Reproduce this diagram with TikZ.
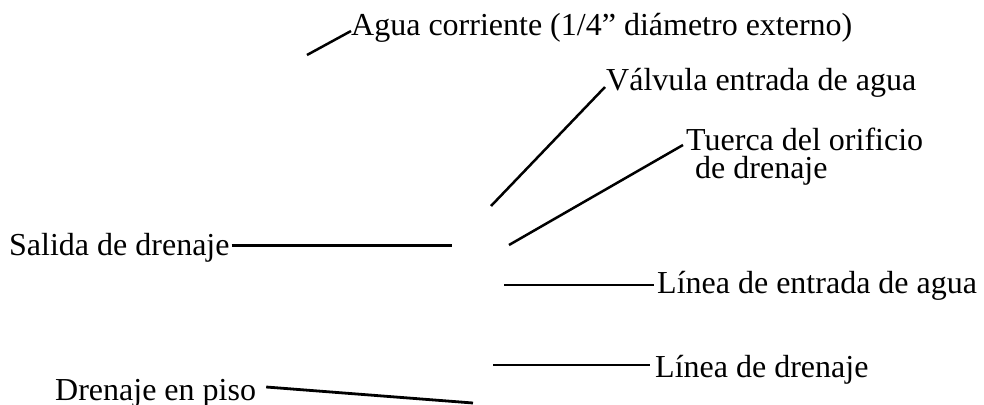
\documentclass[tikz,border=0pt]{standalone}
\usepackage{fontspec}
\setmainfont{Liberation Serif}
\usepackage{tikz}
\tikzset{
    lbl/.style={
        font=\fontsize{32}{28}\selectfont,
        inner sep=0pt,
        anchor=base west
    },
    leader/.style={
        line width=#1,
        line cap=butt
    },
    leader/.default=2.5pt
}

\begin{document}
\begin{tikzpicture}[x=1pt,y=-1pt]
		\useasboundingbox (0,0) rectangle (984,404);

		% free ends of the leaders
		\coordinate (p-agua) at (307,55);
		\coordinate (p-valvula) at (491,206);
		\coordinate (p-tuerca) at (509,245);
		\coordinate (p-salida) at (452,245);
		\coordinate (p-entrada) at (504,285);
		\coordinate (p-lineadren) at (493,365);
		\coordinate (p-piso) at (473,403);

		% Agua corriente
		\node[lbl] (agua) at (351,36) {Agua corriente (1/4” diámetro externo)};
		\draw[leader] (p-agua) -- ([shift={(0,-5)}]agua.base west);

		% Valvula
		\node[lbl] (valvula) at (606,90) {Válvula entrada de agua};
		\draw[leader] (p-valvula) -- ([shift={(-1,-3)}]valvula.base west);

		% Tuerca (base is the last line)
		\node[lbl, align=left] (tuerca) at (686,178) {Tuerca del orificio\\\hspace*{9pt}de drenaje};
		\draw[leader] (p-tuerca) -- ([shift={(-3,-33)}]tuerca.base west);

		% Salida de drenaje
		\node[lbl] (salida) at (9,255) {Salida de drenaje};
		\draw[leader=3pt] ([shift={(2,-10)}]salida.base east) -- (p-salida);

		% Linea de entrada
		\node[lbl] (entrada) at (657,293) {Línea de entrada de agua};
		\draw[leader] (p-entrada) -- ([shift={(-3,-8)}]entrada.base west);

		% Linea de drenaje
		\node[lbl] (lineadren) at (655,377) {Línea de drenaje};
		\draw[leader] (p-lineadren) -- ([shift={(-5,-12)}]lineadren.base west);

		% Drenaje en piso
		\node[lbl] (piso) at (55,400) {Drenaje en piso};
		\draw[leader=2.8pt] ([shift={(10,-13)}]piso.base east) -- (p-piso);

	\end{tikzpicture}
\end{document}
